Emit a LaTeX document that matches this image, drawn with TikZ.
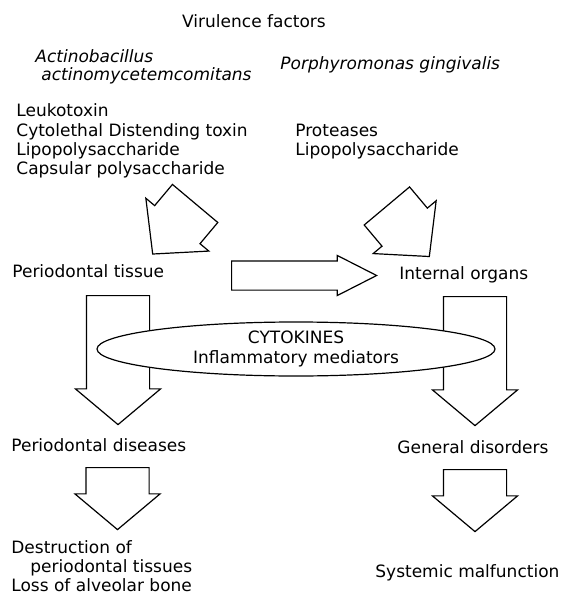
\documentclass[tikz,border=0pt]{standalone}
\usepackage{fontspec}
\setmainfont{DejaVu Sans}
\usepackage{tikz}
\usetikzlibrary{shapes,arrows,calc,positioning}

\tikzstyle{txt} = [inner sep=0pt, anchor=base west, font=\fontsize{8.5}{9.6}\selectfont]
\tikzstyle{species} = [txt, font=\fontsize{8.5}{9.6}\selectfont\itshape]
\tikzstyle{fat} = [draw, single arrow, fill=white, line width=0.6pt, inner sep=0pt, text depth=0pt, minimum width=0pt, anchor=tail]
\tikzstyle{downarrow} = [fat, rotate=-90, text height=31pt, single arrow head extend=5.5pt, single arrow tip angle=100]
\tikzstyle{sidearrow} = [fat, text height=14pt, single arrow head extend=2.75pt, single arrow tip angle=54, minimum height=72.5pt]
\tikzstyle{slantarrow} = [fat, text height=29pt, single arrow head extend=5.75pt, single arrow tip angle=94, minimum height=33pt]
\tikzstyle{mediators} = [draw, ellipse, fill=white, line width=0.6pt, inner sep=0pt, minimum width=199pt, minimum height=27pt, align=center, font=\fontsize{8.5}{9.6}\selectfont]

\begin{document}
\begin{tikzpicture}[x=0.5pt, y=-0.5pt]
	\useasboundingbox (0,0) rectangle (574,593);

	\node [txt, anchor=base] (virulence) at (254,28) {Virulence factors};
	\node [species] (aa1) at (35,63) {Actinobacillus};
	\node [species] (aa2) at (41,81) {actinomycetemcomitans};
	\node [species] (pg) at (280,70) {Porphyromonas gingivalis};

	% factors of each species
	\node [txt] (leuko) at (16,117) {Leukotoxin};
	\node [txt] (cdt) at (16,136.3) {Cytolethal Distending toxin};
	\node [txt] (lpsa) at (16,155.6) {Lipopolysaccharide};
	\node [txt] (caps) at (16,175) {Capsular polysaccharide};
	\node [txt] (prot) at (295,136.3) {Proteases};
	\node [txt] (lpsp) at (295,155.6) {Lipopolysaccharide};

	\node [txt] (tissue) at (12,277) {Periodontal tissue};
	\node [txt] (organs) at (399,279) {Internal organs};
	\node [txt] (pdis) at (11,451) {Periodontal diseases};
	\node [txt] (general) at (397,453) {General disorders};
	\node [txt] (destr1) at (11,553) {Destruction of};
	\node [txt] (destr2) at (30,572) {periodontal tissues};
	\node [txt] (bone) at (11,591) {Loss of alveolar bone};
	\node [txt] (systemic) at (375,577) {Systemic malfunction};

	% block arrows
	\node [slantarrow, rotate=230] (intoTissue) at (195.5,203) {};
	\node [slantarrow, rotate=-50] (intoOrgans) at (386.5,205.5) {};
	\node [sidearrow] (spread) at (231,275.5) {};
	\node [downarrow, minimum height=64.5pt] (toPdis) at (118,295) {};
	\node [downarrow, minimum height=64.5pt] (toGeneral) at (475,296) {};
	\node [downarrow, minimum height=31pt] (toBone) at (117.5,467) {};
	\node [downarrow, minimum height=31pt] (toSystemic) at (475,469) {};

	\node [mediators] (cytokines) at (296,349) {CYTOKINES\\Inflammatory mediators};
\end{tikzpicture}
\end{document}
